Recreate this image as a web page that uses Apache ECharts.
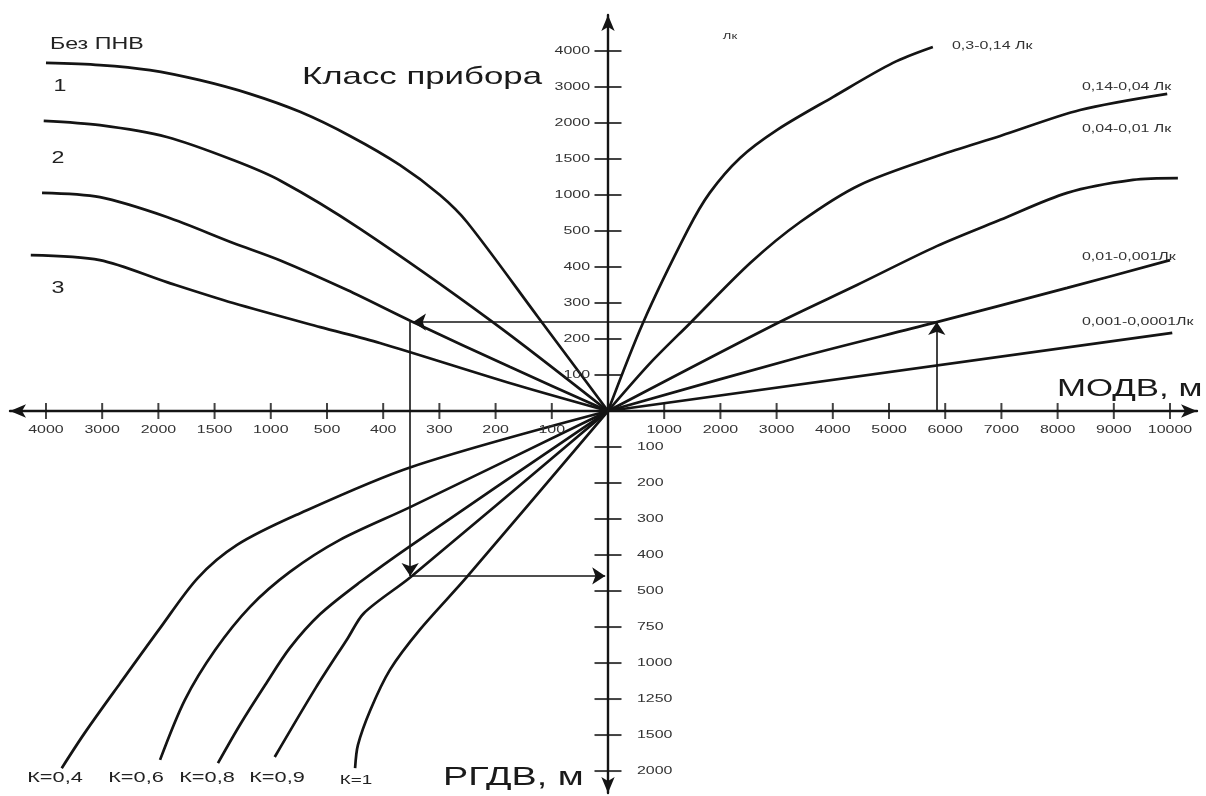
<!DOCTYPE html>
<html>
<head>
<meta charset="utf-8">
<script src="https://cdn.jsdelivr.net/npm/echarts@6/dist/echarts.min.js"></script>
<style>
html,body{margin:0;padding:0;background:#fff;}
#chart{width:1206px;height:796px;}
</style>
</head>
<body>
<div id="chart"></div>
<script>
// ---------- DATA (axis positions are in tick-step units from the origin) ----------
// tick labels, counted outward from the origin
const leftTickLabels   = ['100','200','300','400','500','1000','1500','2000','3000','4000'];
const rightTickLabels  = ['1000','2000','3000','4000','5000','6000','7000','8000','9000','10000'];
const topTickLabels    = ['100','200','300','400','500','1000','1500','2000','3000','4000'];
const bottomTickLabels = ['100','200','300','400','500','750','1000','1250','1500','2000'];

// upper-left quadrant: device class curves
const classNames = ['Без ПНВ','1','2','3'];
const curveNoNVD = [[-10.0,9.67],[-9.04,9.61],[-8.15,9.47],[-7.26,9.19],[-6.37,8.81],[-5.48,8.31],[-4.59,7.64],[-3.70,6.83],[-2.99,6.0],[-2.51,5.25],[-1.25,2.62],[0,0]];
const curveClass1 = [[-10.04,8.06],[-9.04,7.94],[-7.85,7.61],[-6.67,6.97],[-5.82,6.39],[-4.41,5.06],[-2.05,2.47],[0,0]];
const curveClass2 = [[-10.07,6.06],[-9.04,5.94],[-7.85,5.39],[-6.67,4.67],[-5.84,4.19],[-4.64,3.36],[-3.47,2.47],[-1.74,1.22],[0,0]];
const curveClass3 = [[-10.27,4.33],[-9.04,4.19],[-7.85,3.58],[-6.67,3.0],[-5.12,2.33],[-4.06,1.89],[-1.69,0.75],[0,0]];

// upper-right quadrant: illumination curves
const luxNames = ['0,3-0,14 Лк','0,14-0,04 Лк','0,04-0,01 Лк','0,01-0,001Лк','0,001-0,0001Лк'];
const lux03  = [[0,0],[0.62,2.44],[1.42,5.03],[1.81,6.06],[2.35,7.03],[3.01,7.81],[4.0,8.72],[5.07,9.67],[5.78,10.11]];
const lux014 = [[0,0],[0.75,1.33],[1.46,2.44],[2.53,4.11],[3.42,5.25],[4.48,6.28],[5.91,7.11],[6.98,7.64],[8.40,8.36],[9.95,8.81]];
const lux004 = [[0,0],[3.01,2.44],[4.43,3.5],[5.85,4.58],[6.98,5.31],[8.17,6.06],[9.34,6.42],[10.14,6.47]];
const lux001 = [[0,0],[3.42,1.5],[5.78,2.44],[8.17,3.42],[10.0,4.19]];
const lux0001 = [[0,0],[10.04,2.17]];

// lower-left quadrant: K curves
const kNames = ['К=0,4','К=0,6','К=0,8','К=0,9','К=1'];
const k04 = [[0,0],[-3.51,-1.56],[-5.55,-2.89],[-6.60,-3.72],[-7.30,-4.64],[-7.97,-6.03],[-8.68,-7.56],[-9.31,-8.94],[-9.72,-9.92]];
const k06 = [[0,0],[-3.52,-2.67],[-4.77,-3.58],[-5.66,-4.47],[-6.37,-5.44],[-6.99,-6.64],[-7.53,-8.03],[-7.97,-9.69]];
const k08 = [[0,0],[-3.52,-3.75],[-4.41,-4.75],[-5.12,-5.64],[-5.66,-6.58],[-6.10,-7.61],[-6.55,-8.72],[-6.94,-9.78]];
const k09 = [[0,0],[-3.51,-4.61],[-4.34,-5.61],[-4.63,-6.31],[-5.20,-7.69],[-5.93,-9.61]];
const k1  = [[0,0],[-2.51,-4.61],[-3.35,-6.08],[-3.88,-7.19],[-4.23,-8.31],[-4.45,-9.28],[-4.50,-9.92]];

// worked example path (arrows)
const examplePath = [
  [[5.85,0],[5.85,2.47]],
  [[5.85,2.47],[-3.47,2.47]],
  [[-3.52,2.47],[-3.52,-4.58]],
  [[-3.52,-4.58],[-0.05,-4.58]]
];

// ---------- CHART ----------
const SX = 1.45; // horizontal stretch of the original lettering
const FONT = '"Liberation Sans", Arial, sans-serif';
const INK = '#141414';

const chart = echarts.init(document.getElementById('chart'), null, {renderer:'canvas'});

// tick marks
const hTicks = [...leftTickLabels.map((_, i) => [-(i + 1), 0]), ...rightTickLabels.map((_, i) => [i + 1, 0])];
const vTicks = [...topTickLabels.map((_, i) => [0, i + 1]), ...bottomTickLabels.map((_, i) => [0, -(i + 1)])];

// tick labels
const tickLabelItems = [
  ...leftTickLabels.map((t, i) => ({pos: [-(i + 1), 0], text: t, side: 'h'})),
  ...rightTickLabels.map((t, i) => ({pos: [i + 1, 0], text: t, side: 'h'})),
  ...topTickLabels.map((t, i) => ({pos: [0, i + 1], text: t, side: 'top'})),
  ...bottomTickLabels.map((t, i) => ({pos: [0, -(i + 1)], text: t, side: 'bottom'}))
];

function textEl(x, y, text, size, align, color) {
  return {
    type: 'text', x: x, y: y, scaleX: SX, silent: true, z: 20,
    style: {
      text: text, font: size + 'px ' + FONT, fill: color,
      align: align, verticalAlign: 'middle',
      textAlign: align, textVerticalAlign: 'middle'
    }
  };
}

const curveStyle = {type: 'line', showSymbol: false, smooth: 0.3, silent: true,
  lineStyle: {color: INK, width: 2.7}, z: 3, animation: false};

const curves = [
  [classNames[0], curveNoNVD], [classNames[1], curveClass1], [classNames[2], curveClass2], [classNames[3], curveClass3],
  [luxNames[0], lux03], [luxNames[1], lux014], [luxNames[2], lux004], [luxNames[3], lux001], [luxNames[4], lux0001],
  [kNames[0], k04], [kNames[1], k06], [kNames[2], k08], [kNames[3], k09], [kNames[4], k1]
].map(([name, data]) => Object.assign({}, curveStyle, {name: name, data: data}));

const option = {
  backgroundColor: '#ffffff',
  animation: false,
  grid: {left: 10, right: 9, top: 15, bottom: 3, containLabel: false},
  xAxis: {
    type: 'value', min: -10.64, max: 10.48,
    axisLine: {onZero: true, symbol: ['arrow', 'arrow'], symbolSize: [10, 16], lineStyle: {color: INK, width: 2.4}},
    axisTick: {show: false}, axisLabel: {show: false}, splitLine: {show: false}
  },
  yAxis: {
    type: 'value', min: -10.61, max: 11.0,
    axisLine: {onZero: true, symbol: ['arrow', 'arrow'], symbolSize: [10, 16], lineStyle: {color: INK, width: 2.4}},
    axisTick: {show: false}, axisLabel: {show: false}, splitLine: {show: false}
  },
  series: [
    ...curves,
    {
      type: 'scatter', silent: true, z: 4, symbol: 'rect', symbolSize: [2, 16],
      itemStyle: {color: INK}, data: hTicks
    },
    {
      type: 'scatter', silent: true, z: 4, symbol: 'rect', symbolSize: [27, 2],
      itemStyle: {color: INK}, data: vTicks
    },
    {
      type: 'lines', coordinateSystem: 'cartesian2d', silent: true, z: 5,
      symbol: ['none', 'arrow'], symbolSize: 13,
      lineStyle: {color: INK, width: 1.6, opacity: 1},
      data: examplePath.map(c => ({coords: c}))
    },
    {
      type: 'custom', coordinateSystem: 'cartesian2d', silent: true, z: 10,
      data: tickLabelItems.map(d => d.pos),
      renderItem: function (params, api) {
        const item = tickLabelItems[params.dataIndex];
        const p = api.coord(item.pos);
        let x = p[0], y = p[1], align = 'center';
        if (item.side === 'h') { y += 19; }
        else if (item.side === 'top') { x -= 18; align = 'right'; }
        else { x += 29; align = 'left'; }
        return {
          type: 'text', x: x, y: y, scaleX: SX,
          style: {
            text: item.text, font: '11px ' + FONT, fill: '#333',
            align: align, verticalAlign: 'middle', textAlign: align, textVerticalAlign: 'middle'
          }
        };
      }
    }
  ],
  graphic: [
    textEl(50, 45, classNames[0], 16, 'left', '#222'),
    textEl(60, 87, classNames[1], 16, 'center', '#222'),
    textEl(58, 159, classNames[2], 16, 'center', '#222'),
    textEl(58, 289, classNames[3], 16, 'center', '#222'),
    textEl(302, 77, 'Класс прибора', 24, 'left', '#1a1a1a'),
    textEl(730, 37, 'Лк', 9, 'center', '#333'),
    textEl(952, 46, luxNames[0], 11, 'left', '#333'),
    textEl(1082, 87, luxNames[1], 11, 'left', '#333'),
    textEl(1082, 129, luxNames[2], 11, 'left', '#333'),
    textEl(1082, 257, luxNames[3], 11, 'left', '#333'),
    textEl(1082, 322, luxNames[4], 11, 'left', '#333'),
    textEl(1057, 389, 'МОДВ, м', 24, 'left', '#1a1a1a'),
    textEl(443, 778, 'РГДВ, м', 26, 'left', '#1a1a1a'),
    textEl(55, 778, kNames[0], 15, 'center', '#222'),
    textEl(136, 778, kNames[1], 15, 'center', '#222'),
    textEl(207, 778, kNames[2], 15, 'center', '#222'),
    textEl(277, 778, kNames[3], 15, 'center', '#222'),
    textEl(356, 780, kNames[4], 13, 'center', '#222')
  ]
};

chart.setOption(option);
</script>
</body>
</html>
